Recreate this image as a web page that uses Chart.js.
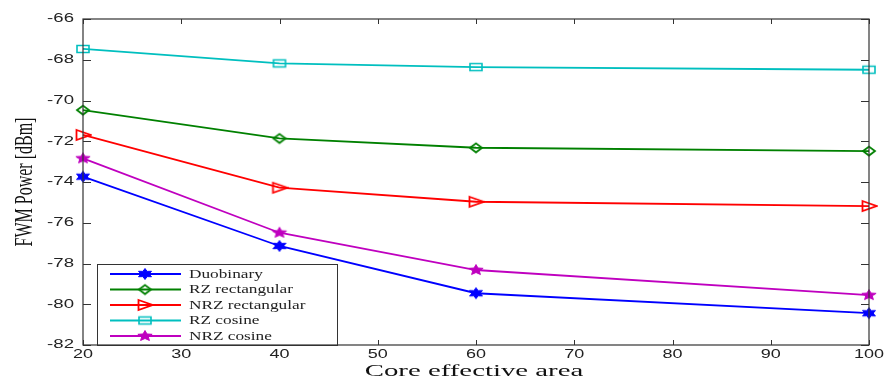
<!DOCTYPE html>
<html>
<head>
<meta charset="utf-8">
<script src="https://cdn.jsdelivr.net/npm/chart.js@4.4.1/dist/chart.umd.min.js"></script>
<style>
  html, body { margin: 0; padding: 0; background: #fff; }
  #fwmChart { display: block; }
</style>
</head>
<body>
<canvas id="fwmChart" width="885" height="378"></canvas>
<script>
// values
const coreArea = [20, 40, 60, 100];
const duobinary = [-73.74, -77.14, -79.46, -80.44];
const rzRectangular = [-70.47, -71.86, -72.32, -72.48];
const nrzRectangular = [-71.69, -74.28, -74.97, -75.18];
const rzCosine = [-67.47, -68.18, -68.36, -68.49];
const nrzCosine = [-72.84, -76.49, -78.32, -79.55];

const xTicks = [20, 30, 40, 50, 60, 70, 80, 90, 100];
const yTicks = [-66, -68, -70, -72, -74, -76, -78, -80, -82];

const seriesNames = ["Duobinary", "RZ rectangular", "NRZ rectangular", "RZ cosine", "NRZ cosine"];

(function () {
  // small canvases used as point markers (the reference is stretched sideways)
  function makeMarker(kind, color) {
    const c = document.createElement("canvas");
    c.width = 18;
    c.height = 14;
    const g = c.getContext("2d");
    const cx = 9, cy = 7;
    g.strokeStyle = color;
    g.fillStyle = color;
    g.lineWidth = 1.8;
    g.lineJoin = "miter";
    g.beginPath();
    if (kind === "diamond") {
      g.moveTo(cx - 6, cy);
      g.lineTo(cx, cy - 4.5);
      g.lineTo(cx + 6, cy);
      g.lineTo(cx, cy + 4.5);
      g.closePath();
      g.stroke();
    } else if (kind === "triangle") {
      g.moveTo(cx - 6.5, cy - 5);
      g.lineTo(cx + 7.5, cy);
      g.lineTo(cx - 6.5, cy + 5);
      g.closePath();
      g.stroke();
    } else if (kind === "square") {
      g.lineWidth = 1.6;
      g.rect(cx - 6, cy - 3.5, 12, 7);
      g.stroke();
    } else {
      const pts = kind === "hexagram" ? 6 : 5;
      const rx = 7.5, ry = 5.5, inner = kind === "hexagram" ? 0.55 : 0.45;
      for (let i = 0; i < pts * 2; i++) {
        const a = -Math.PI / 2 + (i * Math.PI) / pts;
        const r = i % 2 === 0 ? 1 : inner;
        const px = cx + Math.cos(a) * rx * r;
        const py = cy + Math.sin(a) * ry * r;
        if (i === 0) g.moveTo(px, py);
        else g.lineTo(px, py);
      }
      g.closePath();
      g.fill();
      g.lineWidth = 1;
      g.stroke();
    }
    return c;
  }

  const colors = ["#0000ff", "#008000", "#ff0000", "#00bfbf", "#bf00bf"];
  const kinds = ["hexagram", "diamond", "triangle", "square", "pentagram"];
  const values = [duobinary, rzRectangular, nrzRectangular, rzCosine, nrzCosine];

  const datasets = values.map((vals, i) => ({
    label: seriesNames[i],
    data: coreArea.map((x, j) => ({ x: x, y: vals[j] })),
    borderColor: colors[i],
    backgroundColor: colors[i],
    borderWidth: 1.8,
    pointStyle: makeMarker(kinds[i], colors[i]),
    pointRadius: 6,
    tension: 0,
    clip: false,
  }));

  function stretchedText(ctx, text, x, y, sx, align) {
    ctx.save();
    ctx.translate(x, y);
    ctx.scale(sx, 1);
    ctx.textAlign = align;
    ctx.fillText(text, 0, 0);
    ctx.restore();
  }

  const frame = {
    id: "frame",
    afterDraw(chart) {
      const ctx = chart.ctx;
      const a = chart.chartArea;
      const xs = chart.scales.x;
      const ys = chart.scales.y;

      // legend box (over the lines)
      const lx = 97, ly = 264, lw = 240, lh = 81;
      ctx.save();
      ctx.fillStyle = "#fff";
      ctx.fillRect(lx, ly, lw, lh);
      ctx.strokeStyle = "#333";
      ctx.lineWidth = 1;
      ctx.strokeRect(lx + 0.5, ly + 0.5, lw, lh);
      chart.data.datasets.forEach((ds, i) => {
        const ry = 274 + i * 15.5;
        ctx.strokeStyle = ds.borderColor;
        ctx.lineWidth = 1.8;
        ctx.beginPath();
        ctx.moveTo(110, ry);
        ctx.lineTo(181, ry);
        ctx.stroke();
        const m = ds.pointStyle;
        ctx.drawImage(m, 145 - m.width / 2, ry - m.height / 2);
        ctx.fillStyle = "#222";
        ctx.font = "11.5px 'Liberation Serif'";
        ctx.textBaseline = "middle";
        stretchedText(ctx, ds.label, 189, ry + 0.5, 1.5, "left");
      });
      ctx.restore();

      // axes box and inward ticks
      ctx.save();
      ctx.strokeStyle = "#333";
      ctx.lineWidth = 1.2;
      ctx.strokeRect(a.left, a.top, a.right - a.left, a.bottom - a.top);
      ctx.lineWidth = 1;
      ctx.beginPath();
      xTicks.forEach((v) => {
        const px = Math.round(xs.getPixelForValue(v)) + 0.5;
        if (!(px > lx && px < lx + lw)) {
          ctx.moveTo(px, a.bottom);
          ctx.lineTo(px, a.bottom - 5);
        }
        ctx.moveTo(px, a.top);
        ctx.lineTo(px, a.top + 5);
      });
      yTicks.forEach((v) => {
        const py = Math.round(ys.getPixelForValue(v)) + 0.5;
        ctx.moveTo(a.left, py);
        ctx.lineTo(a.left + 8, py);
        ctx.moveTo(a.right, py);
        ctx.lineTo(a.right - 8, py);
      });
      ctx.stroke();

      // tick labels
      ctx.fillStyle = "#222";
      ctx.font = "12px 'Liberation Sans'";
      ctx.textBaseline = "middle";
      yTicks.forEach((v) => {
        stretchedText(ctx, String(v), 74, ys.getPixelForValue(v), 1.55, "right");
      });
      xTicks.forEach((v) => {
        stretchedText(ctx, String(v), xs.getPixelForValue(v), 355, 1.5, "center");
      });

      // axis titles
      ctx.fillStyle = "#111";
      ctx.font = "16px 'Liberation Serif'";
      ctx.textBaseline = "alphabetic";
      stretchedText(ctx, "Core effective area", 474, 376, 1.8, "center");
      ctx.translate(32, 182);
      ctx.rotate(-Math.PI / 2);
      ctx.scale(1, 1.6);
      ctx.textAlign = "center";
      ctx.fillText("FWM Power [dBm]", 0, 0);
      ctx.restore();
    },
  };

  new Chart(document.getElementById("fwmChart"), {
    type: "line",
    data: { datasets: datasets },
    options: {
      responsive: false,
      animation: false,
      devicePixelRatio: 1,
      layout: { autoPadding: false, padding: { left: 83, right: 16, top: 19, bottom: 33 } },
      plugins: { legend: { display: false }, tooltip: { enabled: false } },
      scales: {
        x: { type: "linear", min: 20, max: 100, display: false },
        y: { type: "linear", min: -82, max: -66, display: false },
      },
    },
    plugins: [frame],
  });
})();
</script>
</body>
</html>
